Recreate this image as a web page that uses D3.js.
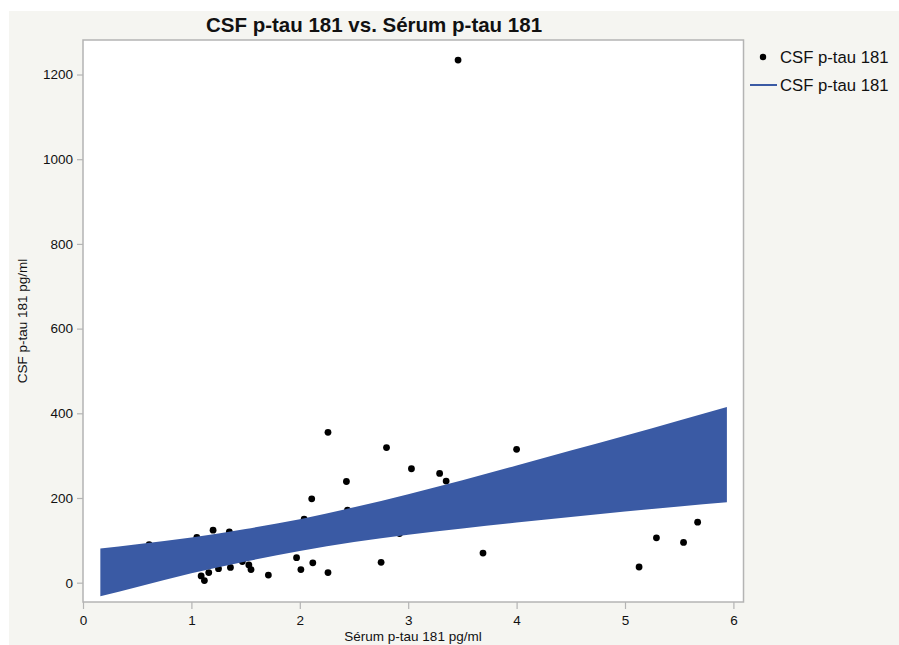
<!DOCTYPE html>
<html>
<head>
<meta charset="utf-8">
<script src="https://cdn.jsdelivr.net/npm/d3@7"></script>
<style>
  body { margin: 0; background: #fff; }
  svg { display: block; font-family: "Liberation Sans", Arial, Helvetica, sans-serif; }
</style>
</head>
<body>
<script>
// Sérum p-tau 181 (x) vs CSF p-tau 181 (y)
const serum = [0.61, 1.05, 1.20, 1.35, 1.09, 1.12, 1.16, 1.25, 1.36, 1.47, 1.53, 1.55, 1.71,
  1.97, 2.01, 2.12, 2.11, 2.04, 2.26, 2.26, 2.80, 2.43, 2.44, 3.03, 3.29, 3.35, 4.00,
  2.92, 3.69, 2.75, 5.67, 5.29, 5.54, 5.13, 3.46];
const csf = [90, 107, 124, 120, 16, 5, 24, 33, 36, 50, 42, 31, 18,
  59, 31, 47, 198, 150, 355, 24, 319, 239, 171, 269, 258, 240, 315,
  116, 70, 48, 143, 106, 95, 37, 1234];

// confidence band of the fit
const bandX = [0.16, 0.5, 1.0, 1.5, 2.0, 2.5, 3.0, 3.5, 4.0, 4.5, 5.0, 5.5, 5.94];
const bandUpper = [81, 91, 107, 127, 150, 178, 209, 242, 277, 312, 347, 383, 415];
const bandLower = [-32, -10, 22, 50, 75, 96, 113, 128, 142, 155, 168, 180, 190];

const xTicks = [0, 1, 2, 3, 4, 5, 6];
const yTicks = [0, 200, 400, 600, 800, 1000, 1200];

const W = 899, H = 645;
const pL = 83, pR = 743.5, pT = 40, pB = 602;
const blue = "#3a5aa4";

const svg = d3.select("body").append("svg").attr("width", W).attr("height", H);

svg.append("rect").attr("x", 9).attr("y", 11).attr("width", W - 9).attr("height", H - 11)
  .attr("fill", "#f5f5f1");

const x = d3.scaleLinear().domain([0, (pR - pL) / 108.4]).range([pL, pR]);
const y = d3.scaleLinear().domain([-45.6, 1281.5]).range([pB, pT]);

svg.append("rect").attr("x", pL).attr("y", pT)
  .attr("width", pR - pL).attr("height", pB - pT)
  .attr("fill", "#fff");

// points (drawn under the band)
svg.append("g").selectAll("circle")
  .data(serum.map((d, i) => [d, csf[i]]))
  .enter().append("circle")
  .attr("cx", d => x(d[0]))
  .attr("cy", d => y(d[1]))
  .attr("r", 3.4)
  .attr("fill", "#000");

const area = d3.area()
  .x((d, i) => x(bandX[i]))
  .y0((d, i) => y(bandLower[i]))
  .y1((d, i) => y(bandUpper[i]))
  .curve(d3.curveMonotoneX);

svg.append("path").attr("d", area(bandX)).attr("fill", blue);

// frame
svg.append("rect").attr("x", pL).attr("y", pT)
  .attr("width", pR - pL).attr("height", pB - pT)
  .attr("fill", "none").attr("stroke", "#b4b4b4").attr("stroke-width", 1.5);

// axes
const xAxis = svg.append("g").attr("transform", `translate(0,${pB})`)
  .call(d3.axisBottom(x).tickValues(xTicks).tickSize(7).tickPadding(6).tickFormat(d3.format("d")));
const yAxis = svg.append("g").attr("transform", `translate(${pL},0)`)
  .call(d3.axisLeft(y).tickValues(yTicks).tickSize(6).tickPadding(4).tickFormat(d3.format("d")));

[xAxis, yAxis].forEach(a => {
  a.select(".domain").remove();
  a.selectAll(".tick line").attr("stroke", "#b4b4b4").attr("stroke-width", 1.2);
  a.selectAll(".tick text").attr("fill", "#111").style("font-size", "13.5px")
    .style("font-family", "'Liberation Sans', Arial, sans-serif");
});

// titles
svg.append("text").attr("x", 374).attr("y", 32).attr("text-anchor", "middle")
  .style("font-size", "20.5px").style("font-weight", "bold").attr("fill", "#111")
  .text("CSF p-tau 181 vs. Sérum p-tau 181");

svg.append("text").attr("x", 413).attr("y", 641).attr("text-anchor", "middle")
  .style("font-size", "13.5px").attr("fill", "#111")
  .text("Sérum p-tau 181 pg/ml");

svg.append("text").attr("transform", "translate(27,321) rotate(-90)").attr("text-anchor", "middle")
  .style("font-size", "13.5px").attr("fill", "#111")
  .text("CSF p-tau 181 pg/ml");

// legend
const lg = svg.append("g");
lg.append("circle").attr("cx", 763).attr("cy", 57).attr("r", 3.2).attr("fill", "#000");
lg.append("text").attr("x", 780).attr("y", 63).style("font-size", "16.7px").attr("fill", "#111")
  .text("CSF p-tau 181");
lg.append("line").attr("x1", 750).attr("x2", 777).attr("y1", 85).attr("y2", 85)
  .attr("stroke", blue).attr("stroke-width", 2);
lg.append("text").attr("x", 780).attr("y", 91).style("font-size", "16.7px").attr("fill", "#111")
  .text("CSF p-tau 181");
</script>
</body>
</html>
